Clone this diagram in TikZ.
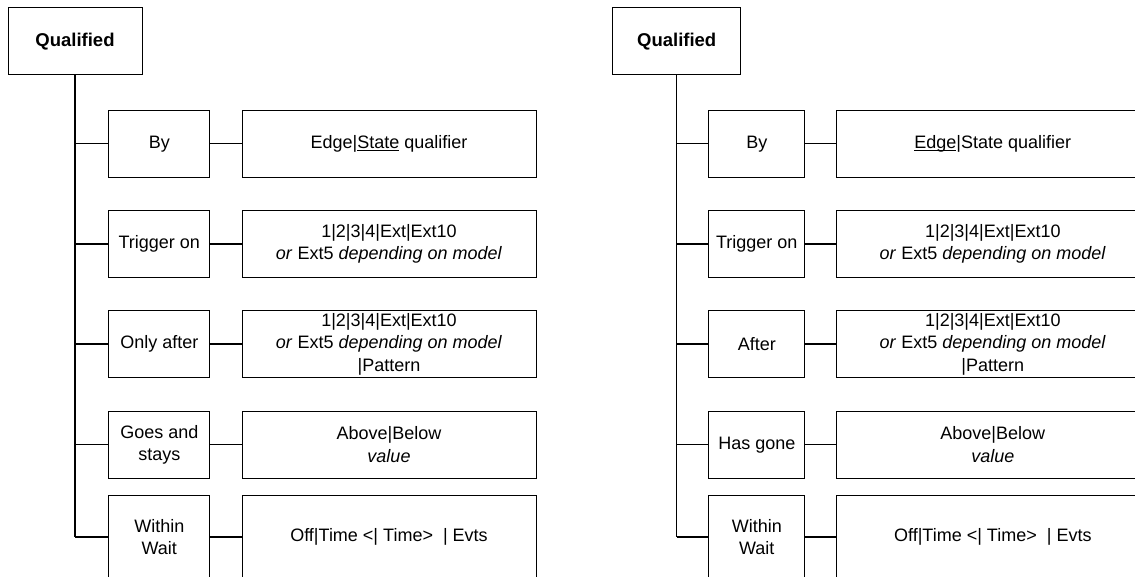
\documentclass[tikz,border=0pt]{standalone}
\usepackage{fontspec}
\setmainfont{Liberation Sans}
\newcommand{\dfont}{\fontsize{18}{22.5}\selectfont}
\newcommand{\ul}[1]{\underline{\smash{#1}}}
\begin{document}
\begin{tikzpicture}[x=1pt,y=-1pt,
  box/.style={draw, line width=1pt, inner sep=0pt, align=center, font=\dfont},
  qbox/.style={box, minimum height=67pt, font=\fontsize{18.5}{22.5}\selectfont\bfseries},
  lbox/.style={box, minimum width=100.7pt},
  rlbox/.style={box, minimum width=96.3pt},
  vbox/.style={box, minimum width=294pt},
  rvbox/.style={box, minimum width=312.3pt},
  row/.style={minimum height=66.7pt},
  lastrow/.style={minimum height=84pt},
  conn/.style={line width=1.2pt}]
\useasboundingbox (0,0) rectangle (1135,577);
\clip (0,0) rectangle (1135,577);
% ---------- left panel ----------
\node[qbox, minimum width=134pt] (QL) at (75,41.5) {Qualified};
\node[lbox,row] (LB1) at (159.3,143.7) {By};
\node[vbox,row] (LV1) at (389,143.7) {Edge|\ul{State} qualifier};
\node[lbox,row] (LB2) at (159.3,244) {Trigger on};
\node[vbox,row] (LV2) at (389,244) {1|2|3|4|Ext|Ext10\\\textit{or} Ext5 \textit{depending on model}};
\node[lbox,row] (LB3) at (159.3,344) {Only after};
\node[vbox,row] (LV3) at (389,344) {1|2|3|4|Ext|Ext10\\\textit{or} Ext5 \textit{depending on model}\\|Pattern};
\node[lbox,row] (LB4) at (159.3,444.7) {Goes and\\stays};
\node[vbox,row] (LV4) at (389,444.7) {Above|Below\\\textit{value}};
\node[lbox,lastrow] (LB5) at (159.3,537) {Within\\Wait};
\node[vbox,lastrow] (LV5) at (389,537) {Off|Time <| Time>\ \ | Evts};
\coordinate (LE) at (75,537);
\draw[conn] (QL.south) -- (LE);
\foreach \i in {1,...,5}{
  \draw[conn] (LB\i.west -| QL.south) -- (LB\i.west);
  \draw[conn] (LB\i.east) -- (LV\i.west);
}
% ---------- right panel ----------
\node[qbox, minimum width=128pt] (QR) at (676.7,41.5) {Qualified};
\node[rlbox,row] (RB1) at (756.8,143.7) {By};
\node[rvbox,row] (RV1) at (992.8,143.7) {\ul{Edge}|State qualifier};
\node[rlbox,row] (RB2) at (756.8,244) {Trigger on};
\node[rvbox,row] (RV2) at (992.8,244) {1|2|3|4|Ext|Ext10\\\textit{or} Ext5 \textit{depending on model}};
\node[rlbox,row] (RB3) at (756.8,344) {After};
\node[rvbox,row] (RV3) at (992.8,344) {1|2|3|4|Ext|Ext10\\\textit{or} Ext5 \textit{depending on model}\\|Pattern};
\node[rlbox,row] (RB4) at (756.8,444.7) {Has gone};
\node[rvbox,row] (RV4) at (992.8,444.7) {Above|Below\\\textit{value}};
\node[rlbox,lastrow] (RB5) at (756.8,537) {Within\\Wait};
\node[rvbox,lastrow] (RV5) at (992.8,537) {Off|Time <| Time>\ \ | Evts};
\coordinate (RE) at (676.7,537);
\draw[conn] (QR.south) -- (RE);
\foreach \i in {1,...,5}{
  \draw[conn] (RB\i.west -| QR.south) -- (RB\i.west);
  \draw[conn] (RB\i.east) -- (RV\i.west);
}
\end{tikzpicture}
\end{document}
